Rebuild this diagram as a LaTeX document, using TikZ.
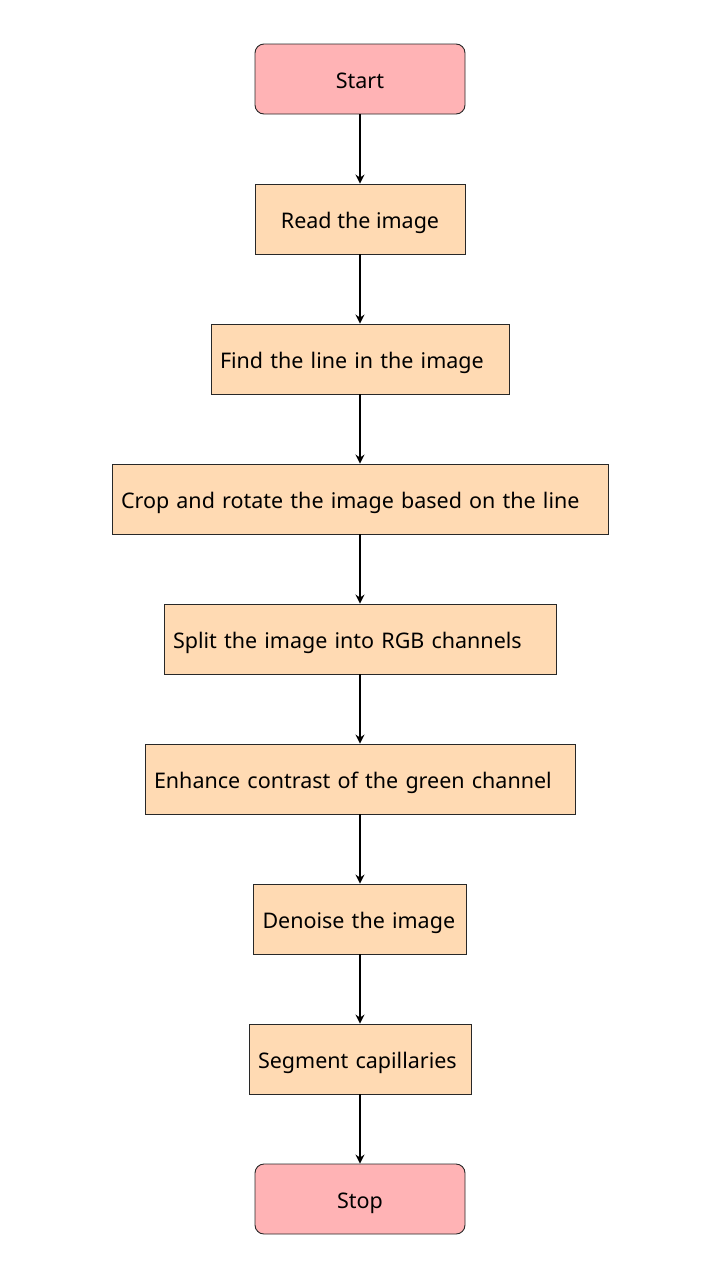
\documentclass[tikz,border=0pt]{standalone}
\usepackage{fontspec}
\setmainfont{Noto Sans}
\usetikzlibrary{arrows.meta}
\definecolor{peach}{RGB}{255,218,179}
\definecolor{pinkish}{RGB}{255,179,181}
\definecolor{edge}{RGB}{40,40,40}
\begin{document}
\begin{tikzpicture}[x=1pt,y=-1pt,
  base/.style={draw=edge,line width=0.9pt,minimum height=70pt,font=\fontsize{21.5}{26}\selectfont,inner sep=0pt,text height=23.4pt,text depth=5pt},
  term/.style={base,fill=pinkish,rounded corners=9pt,minimum width=210pt},
  stepbox/.style={base,fill=peach},
  lbox/.style={stepbox,text width=#1-18pt,minimum width=#1,inner xsep=9pt,align=left},
  conn/.style={-{Stealth[length=9pt,width=9pt,inset=3pt]},line width=1.5pt}]
\useasboundingbox (0,0) rectangle (720,1280);
\fill[white] (0,0) rectangle (720,1280);
\node[term] (start) at (360,79) {Start};
\node[stepbox,minimum width=210pt] (read) at (360,219) {Read the image};
\node[lbox=298pt] (find) at (360,359) {Find the line in the image};
\node[lbox=496pt] (crop) at (360,499) {Crop and rotate the image based on the line};
\node[lbox=392pt] (split) at (360,639) {Split the image into RGB channels};
\node[lbox=430pt] (enh) at (360,779) {Enhance contrast of the green channel};
\node[lbox=213pt] (den) at (360,919) {Denoise the image};
\node[lbox=222pt] (seg) at (360,1059) {Segment capillaries};
\node[term] (stop) at (360,1199) {Stop};
\draw[conn] (start) -- (read);
\draw[conn] (read) -- (find);
\draw[conn] (find) -- (crop);
\draw[conn] (crop) -- (split);
\draw[conn] (split) -- (enh);
\draw[conn] (enh) -- (den);
\draw[conn] (den) -- (seg);
\draw[conn] (seg) -- (stop);
\end{tikzpicture}
\end{document}
